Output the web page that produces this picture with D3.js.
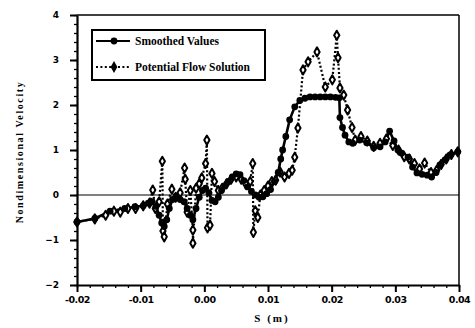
<!DOCTYPE html>
<html>
<head>
<meta charset="utf-8">
<script src="https://cdn.jsdelivr.net/npm/d3@7"></script>
<style>
  body { margin: 0; background: #fff; }
  svg { display: block; }
</style>
</head>
<body>
<figure id="chart" style="margin:0"></figure>
<script>
// values (S in metres, velocity is nondimensional)
const smoothS = [-0.0200, -0.0172, -0.0148, -0.0125, -0.0109, -0.0096, -0.0088, -0.0082, -0.0076, -0.0071,
  -0.0067, -0.0063, -0.0059, -0.0055, -0.0050, -0.0044, -0.0038, -0.0032, -0.0027, -0.0022,
  -0.0018, -0.0013, -0.0008, -0.0003, 0.0002, 0.0007, 0.0012, 0.0017, 0.0022, 0.0027,
  0.0032, 0.0038, 0.0044, 0.0050, 0.0056, 0.0062, 0.0068, 0.0074, 0.0080, 0.0086,
  0.0092, 0.0098, 0.0104, 0.0110, 0.0116, 0.0120, 0.0123, 0.0128, 0.0134, 0.0142,
  0.0150, 0.0158, 0.0166, 0.0174, 0.0182, 0.0190, 0.0198, 0.0206, 0.0212, 0.0213,
  0.0217, 0.0221, 0.0227, 0.0233, 0.0244, 0.0255, 0.0266, 0.0276, 0.0284, 0.0291,
  0.0298, 0.0304, 0.0310, 0.0320, 0.0327, 0.0334, 0.0342, 0.0350, 0.0357, 0.0364,
  0.0370, 0.0378, 0.0386, 0.0398];
const smoothV = [-0.60, -0.52, -0.36, -0.30, -0.26, -0.24, -0.18, -0.15, -0.25, -0.45,
  -0.62, -0.70, -0.55, -0.30, -0.10, -0.05, -0.10, -0.15, -0.30, -0.45,
  -0.55, -0.30, -0.05, 0.10, 0.15, 0.05, -0.12, -0.15, -0.05, 0.10,
  0.20, 0.30, 0.40, 0.47, 0.45, 0.32, 0.18, 0.08, 0.00, -0.05,
  -0.04, 0.03, 0.12, 0.30, 0.50, 0.80, 1.00, 1.30, 1.67, 1.96,
  2.10, 2.15, 2.18, 2.18, 2.18, 2.18, 2.18, 2.17, 2.16, 1.72,
  1.50, 1.33, 1.18, 1.15, 1.22, 1.16, 1.05, 1.07, 1.18, 1.42,
  1.20, 1.00, 0.93, 0.84, 0.62, 0.49, 0.46, 0.44, 0.40, 0.50,
  0.67, 0.78, 0.89, 0.96];

const flowS = [-0.0200, -0.0172, -0.0155, -0.0142, -0.0132, -0.0120, -0.0108, -0.0096, -0.0086, -0.0081,
  -0.0077, -0.0071, -0.0066, -0.0065, -0.0063, -0.0058, -0.0051, -0.0045, -0.0038, -0.0031,
  -0.0030, -0.0027, -0.0022, -0.0018, -0.0018, -0.0013, -0.0008, -0.0004, 0.0002, 0.0004,
  0.0005, 0.0009, 0.0012, 0.0016, 0.0022, 0.0028, 0.0035, 0.0042, 0.0050, 0.0058,
  0.0065, 0.0072, 0.0076, 0.0077, 0.0080, 0.0084, 0.0088, 0.0094, 0.0100, 0.0106,
  0.0112, 0.0119, 0.0126, 0.0133, 0.0138, 0.0142, 0.0147, 0.0155, 0.0163, 0.0177,
  0.0190, 0.0201, 0.0208, 0.0210, 0.0213, 0.0219, 0.0225, 0.0232, 0.0237, 0.0246,
  0.0256, 0.0266, 0.0276, 0.0286, 0.0296, 0.0305, 0.0314, 0.0322, 0.0330, 0.0338,
  0.0346, 0.0356, 0.0365, 0.0372, 0.0380, 0.0388, 0.0398];
const flowV = [-0.60, -0.53, -0.45, -0.36, -0.38, -0.30, -0.30, -0.24, -0.18, 0.11,
  -0.30, -0.15, 0.75, -0.80, -0.93, -0.20, 0.13, -0.05, 0.05, 0.60,
  0.35, -0.38, 0.10, -0.78, -1.07, 0.15, 0.25, 0.38, 0.70, 1.22,
  -0.73, -0.67, 0.48, 0.30, 0.10, 0.15, 0.25, 0.35, 0.40, 0.35,
  0.25, 0.30, 0.70, -0.83, -0.35, -0.50, 0.00, 0.10, 0.20, 0.30,
  0.33, 0.51, 0.40, 0.48, 0.55, 0.84, 1.49, 2.78, 2.96, 3.18,
  2.40, 2.56, 3.55, 3.05, 2.38, 2.22, 1.89, 1.50, 1.22, 1.30,
  1.20, 1.08, 1.15, 1.25, 1.10, 1.00, 0.85, 0.80, 0.70, 0.58,
  0.71, 0.50, 0.55, 0.68, 0.80, 0.90, 0.96];

const xTicks = [-0.02, -0.01, 0.00, 0.01, 0.02, 0.03, 0.04];
const yTicks = [-2, -1, 0, 1, 2, 3, 4];
const seriesNames = ['Smoothed Values', 'Potential Flow Solution'];

const width = 475, height = 328;
const margin = { top: 15, right: 16, bottom: 43, left: 77 };

const svg = d3.select('figure#chart')
  .append('svg')
  .attr('width', width)
  .attr('height', height);

const x = d3.scaleLinear().domain([-0.02, 0.04]).range([margin.left, width - margin.right]);
const y = d3.scaleLinear().domain([-2, 4]).range([height - margin.bottom, margin.top]);

const smooth = smoothS.map((s, i) => ({ s: s, v: smoothV[i] }));
const flow = flowS.map((s, i) => ({ s: s, v: flowV[i] }));

// frame (top and right are thinner)
svg.append('line')
  .attr('x1', x(-0.02)).attr('x2', x(0.04))
  .attr('y1', y(4)).attr('y2', y(4))
  .attr('stroke', '#000').attr('stroke-width', 1.5);
svg.append('line')
  .attr('x1', x(0.04)).attr('x2', x(0.04))
  .attr('y1', y(4)).attr('y2', y(-2))
  .attr('stroke', '#000').attr('stroke-width', 1.5);

// zero line
svg.append('line')
  .attr('x1', x(-0.02)).attr('x2', x(0.04))
  .attr('y1', y(0)).attr('y2', y(0))
  .attr('stroke', '#000').attr('stroke-width', 1);

// minor ticks
const xMinor = d3.range(-0.02, 0.0401, 0.002).map((d) => +d.toFixed(3));
const yMinor = d3.range(-2, 4.01, 0.2).map((d) => +d.toFixed(1));

svg.append('g')
  .attr('transform', 'translate(0,' + y(-2) + ')')
  .call(d3.axisBottom(x).tickValues(xMinor).tickSize(3).tickFormat(''))
  .call((g) => g.select('.domain').remove())
  .selectAll('line').attr('stroke-width', 1.3);

svg.append('g')
  .attr('transform', 'translate(' + x(-0.02) + ',0)')
  .call(d3.axisLeft(y).tickValues(yMinor).tickSize(3).tickFormat(''))
  .call((g) => g.select('.domain').remove())
  .selectAll('line').attr('stroke-width', 1.3);

// major axes
const xAxis = svg.append('g')
  .attr('transform', 'translate(0,' + y(-2) + ')')
  .call(d3.axisBottom(x).tickValues(xTicks).tickSize(7).tickSizeOuter(0).tickPadding(4)
    .tickFormat((d) => d.toFixed(2)));
xAxis.select('.domain').attr('stroke-width', 2.2);
xAxis.selectAll('line').attr('stroke-width', 2);
xAxis.selectAll('text')
  .style('font-family', '"DejaVu Sans", sans-serif')
  .style('font-weight', 'bold')
  .style('font-size', '9.5px')
  .style('letter-spacing', '-0.5px')
  .attr('fill', '#000');

const yAxis = svg.append('g')
  .attr('transform', 'translate(' + x(-0.02) + ',0)')
  .call(d3.axisLeft(y).tickValues(yTicks).tickSize(7).tickSizeOuter(0).tickPadding(11)
    .tickFormat(d3.format('d')));
yAxis.select('.domain').attr('stroke-width', 2.2);
yAxis.selectAll('line').attr('stroke-width', 2);
yAxis.selectAll('text')
  .style('font-family', '"DejaVu Sans", sans-serif')
  .style('font-weight', 'bold')
  .style('font-size', '9px')
  .attr('fill', '#000');

// titles
svg.append('text')
  .attr('x', 272).attr('y', 322)
  .attr('text-anchor', 'middle')
  .style('font-family', '"Liberation Serif", serif')
  .style('font-weight', 'bold')
  .style('font-size', '11px')
  .style('letter-spacing', '2px')
  .text('S (m)');

svg.append('text')
  .attr('transform', 'translate(23,' + (y(1) + 2) + ') rotate(-90)')
  .attr('text-anchor', 'middle')
  .style('font-family', '"Liberation Serif", serif')
  .style('font-weight', 'bold')
  .style('font-size', '10px')
  .style('letter-spacing', '1.6px')
  .text('Nondimensional Velocity');

// lines
const line = d3.line().x((d) => x(d.s)).y((d) => y(d.v));

svg.append('path')
  .datum(flow)
  .attr('d', line)
  .attr('fill', 'none')
  .attr('stroke', '#000')
  .attr('stroke-width', 2.2)
  .attr('stroke-dasharray', '2,2.2');

svg.append('path')
  .datum(smooth)
  .attr('d', line)
  .attr('fill', 'none')
  .attr('stroke', '#000')
  .attr('stroke-width', 2.6);

// markers
const diamond = d3.symbol().type(d3.symbolDiamond).size(24);

svg.append('g')
  .selectAll('path')
  .data(flow)
  .enter()
  .append('path')
  .attr('d', diamond)
  .attr('transform', (d) => 'translate(' + x(d.s) + ',' + y(d.v) + ')')
  .attr('fill', '#fff')
  .attr('stroke', '#000')
  .attr('stroke-width', 2)
  .attr('stroke-linejoin', 'round');

svg.append('g')
  .selectAll('circle')
  .data(smooth)
  .enter()
  .append('circle')
  .attr('cx', (d) => x(d.s))
  .attr('cy', (d) => y(d.v))
  .attr('r', 3.4)
  .attr('fill', '#000');

// legend
const legend = svg.append('g');
legend.append('rect')
  .attr('x', 92).attr('y', 30)
  .attr('width', 173).attr('height', 50)
  .attr('fill', '#fff')
  .attr('stroke', '#000')
  .attr('stroke-width', 2);

const rows = legend.selectAll('g.row')
  .data(seriesNames)
  .enter()
  .append('g')
  .attr('class', 'row')
  .attr('transform', (d, i) => 'translate(0,' + (41 + i * 26) + ')');

rows.append('line')
  .attr('x1', 96).attr('x2', 130)
  .attr('stroke', '#000')
  .attr('stroke-width', 2)
  .attr('stroke-dasharray', (d, i) => (i === 0 ? null : '2,2.4'));

rows.each(function (d, i) {
  const g = d3.select(this);
  if (i === 0) {
    g.append('circle').attr('cx', 114).attr('r', 3.4).attr('fill', '#000');
  } else {
    g.append('path')
      .attr('d', d3.symbol().type(d3.symbolDiamond).size(40))
      .attr('transform', 'translate(114,0)')
      .attr('fill', '#000');
  }
});

rows.append('text')
  .attr('x', 135)
  .attr('dy', '0.35em')
  .style('font-family', '"Liberation Serif", serif')
  .style('font-weight', 'bold')
  .style('font-size', '11.5px')
  .text((d) => d);
</script>
</body>
</html>
